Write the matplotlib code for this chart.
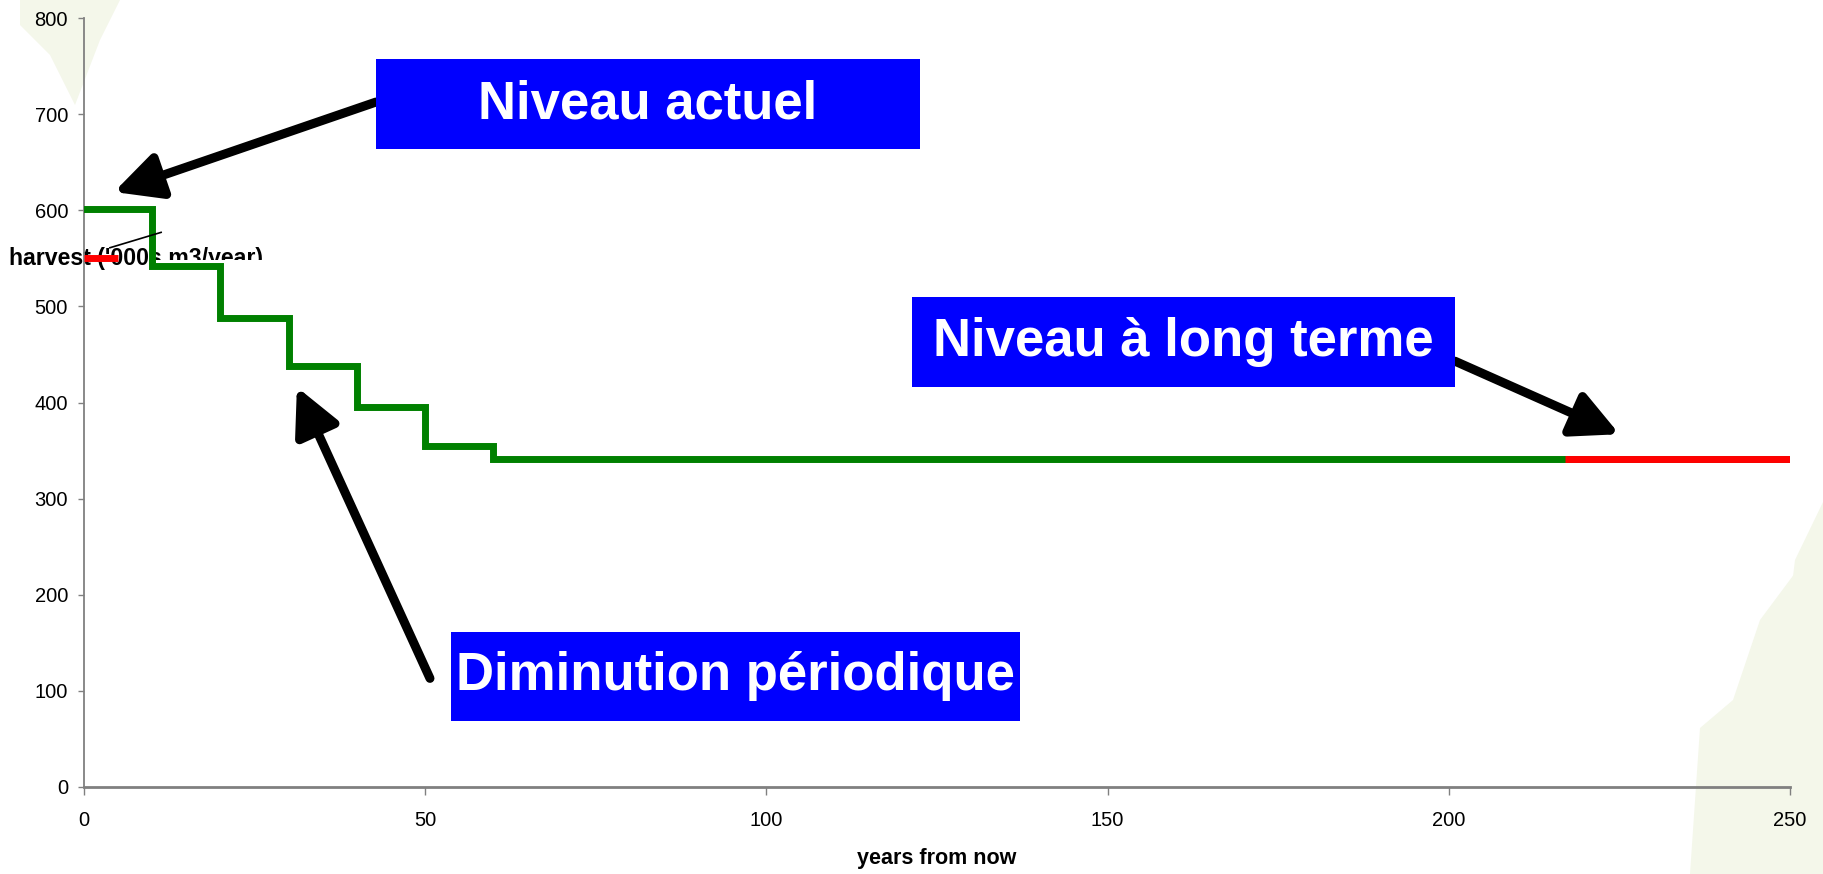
import matplotlib
matplotlib.use("Agg")
import matplotlib.pyplot as plt
from matplotlib.patches import Polygon, Rectangle

plt.rcParams["font.family"] = ["Liberation Sans", "DejaVu Sans"]

W, H = 1824, 874

# harvest steps ('000s m3/year), each level holds until the next edge
STEP_EDGES = [0, 10, 20, 30, 40, 50, 60, 250]
HARVEST = [601, 542, 488, 438, 395, 355, 341]

CURRENT_X = [0, 5]
CURRENT_Y = [550, 550]
LONG_TERM_X = [217, 250]
LONG_TERM_Y = [341, 341]

X_TICKS = [0, 50, 100, 150, 200, 250]
Y_TICKS = [0, 100, 200, 300, 400, 500, 600, 700, 800]

LEADER_X = [3.8, 11.3]
LEADER_Y = [561, 577]


def px(x, y):
    """figure pixel (top-left origin) -> figure fraction"""
    return x / W, 1 - y / H


fig = plt.figure(figsize=(W / 100, H / 100), dpi=100, facecolor="white")

# faint leaf shapes in the slide background
leaf_color = "#f4f7ea"
leaves = [
    [(20, 0), (120, 0), (100, 40), (75, 105), (50, 55), (20, 25)],
    [(1795, 573), (1824, 630), (1824, 874), (1690, 874), (1700, 728), (1733, 700), (1760, 620)],
    [(1824, 500), (1795, 560), (1778, 700), (1824, 720)],
]
for pts in leaves:
    fig.patches.append(Polygon([px(*p) for p in pts], closed=True, transform=fig.transFigure,
                               facecolor=leaf_color, edgecolor="none", zorder=-5))

ax = fig.add_axes([84 / W, 1 - 787 / H, 1706 / W, 769 / H])
ax.set_facecolor("none")

x_step = STEP_EDGES
y_step = HARVEST + [HARVEST[-1]]
ax.step(x_step, y_step, where="post", color="#008000", lw=5, zorder=4, solid_joinstyle="miter")
ax.plot(CURRENT_X, CURRENT_Y, color="#ff0000", lw=5, zorder=3, solid_capstyle="butt")
ax.plot(LONG_TERM_X, LONG_TERM_Y, color="#ff0000", lw=5, zorder=5, solid_capstyle="butt")
ax.plot(LEADER_X, LEADER_Y, color="black", lw=1.2, zorder=6)

ax.set_xlim(0, 250)
ax.set_ylim(0, 800)
ax.set_xticks(X_TICKS)
ax.set_yticks(Y_TICKS)
for side in ("top", "right"):
    ax.spines[side].set_visible(False)
for side in ("left", "bottom"):
    ax.spines[side].set_color("#808080")
    ax.spines[side].set_linewidth(1.3)
ax.spines["bottom"].set_linewidth(2.0)
ax.tick_params(axis="x", direction="out", length=6, width=1, color="#808080", pad=11, labelsize=14.5)
ax.tick_params(axis="y", direction="out", length=4.5, width=1, color="#808080", pad=7, labelsize=14.5)

ax.set_xlabel("years from now", fontsize=15.5, fontweight="bold", labelpad=13)

# y label sits horizontally over the plot, partly hidden by the chart
ax.text(*px(9, 258), "harvest ('000s m3/year)", transform=fig.transFigure, ha="left", va="center",
        fontsize=16.7, fontweight="bold", clip_on=False, zorder=2)
ax.add_patch(Rectangle((10.6, 505), 20, 43, facecolor="white", edgecolor="none", zorder=2.5))

# annotation boxes
boxes = [
    ("Niveau actuel", (42.8, 664), 79.7, 93),
    ("Niveau à long terme", (121.3, 416), 79.6, 94),
    ("Diminution périodique", (53.8, 69), 83.4, 92),
]
for label, (x0, y0), w, h in boxes:
    ax.add_patch(Rectangle((x0, y0), w, h, facecolor="#0000ff", edgecolor="none", zorder=7))
    ax.text(x0 + w / 2, y0 + h / 2, label, ha="center", va="center", color="white",
            fontsize=38, fontweight="bold", zorder=8)

arrows = [
    ((42.8, 712.6), (4.4, 619)),
    ((200.9, 443), (225, 367)),
    ((50.7, 113), (31.2, 416)),
]
for tail, head in arrows:
    ax.annotate("", xy=head, xytext=tail, zorder=6,
                arrowprops=dict(arrowstyle="-|>,head_length=0.7,head_width=0.35", lw=6.5,
                                color="black", mutation_scale=40, shrinkA=0, shrinkB=0))

fig.savefig("out.png", dpi=100, facecolor="white")
